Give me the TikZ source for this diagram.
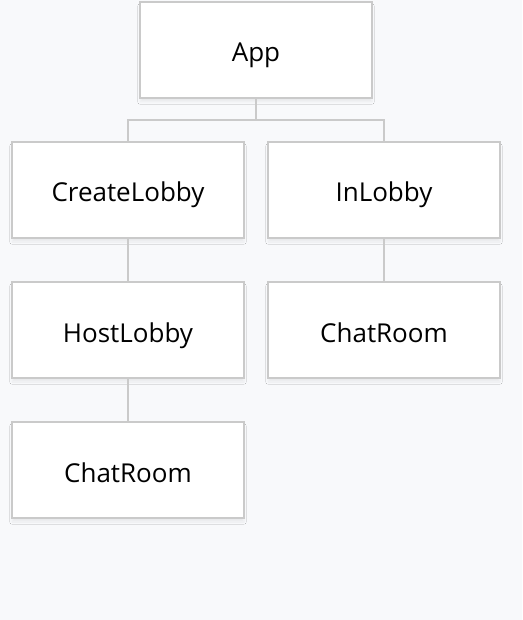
\documentclass[tikz,border=0pt]{standalone}
\usepackage{fontspec}
\setmainfont{Open Sans}
\usetikzlibrary{shadows.blur}
\definecolor{bgcol}{HTML}{F8F9FB}
\definecolor{edgecol}{HTML}{CACACA}
\tikzset{
  comp/.style={draw=edgecol,line width=2pt,fill=white,minimum width=232pt,minimum height=96pt,
    inner sep=0pt,text height=24pt,text depth=0pt,font=\fontsize{26}{30}\selectfont,
    blur shadow={shadow xshift=0pt,shadow yshift=-4pt,shadow blur steps=8,shadow opacity=6}},
  link/.style={draw=edgecol,line width=2pt}
}
\begin{document}
\begin{tikzpicture}[x=1pt,y=-1pt]
\fill[bgcol] (0,0) rectangle (522,620);
\useasboundingbox (0,0) rectangle (522,620);
\node[comp] (app) at (256,50){App};
\node[comp] (create) at (128,190){CreateLobby};
\node[comp] (inlobby) at (384,190){InLobby};
\node[comp] (host) at (128,330){HostLobby};
\node[comp] (chatright) at (384,330){ChatRoom};
\node[comp] (chatleft) at (128,470){ChatRoom};
\draw[link] (app.south) -- +(0,21) coordinate (split);
\draw[link] (split) -| (create.north);
\draw[link] (split) -| (inlobby.north);
\draw[link] (create) -- (host);
\draw[link] (inlobby) -- (chatright);
\draw[link] (host) -- (chatleft);
\end{tikzpicture}
\end{document}
